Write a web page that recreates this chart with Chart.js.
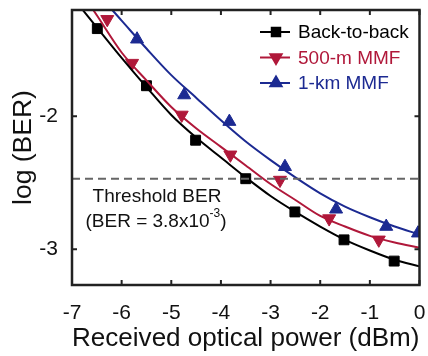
<!DOCTYPE html>
<html>
<head>
<meta charset="utf-8">
<script src="https://cdn.jsdelivr.net/npm/chart.js@4/dist/chart.umd.min.js"></script>
<style>
  html, body { margin: 0; padding: 0; background: #fff; }
  #wrap { width: 428px; height: 356px; }
</style>
</head>
<body>
<div id="wrap"><canvas id="c" width="428" height="356"></canvas></div>
<script>
// --- Data ---
const xTicks = [-7, -6, -5, -4, -3, -2, -1, 0];
const yTicks = [-3, -2];
const thresholdY = -2.47;

// fitted curves
const fitX = [-7, -6.5, -6, -5.5, -5, -4.5, -4, -3.5, -3, -2.5, -2, -1.5, -1, -0.5, 0];
const b2bFit = [-1.10, -1.33, -1.56, -1.78, -1.99, -2.16, -2.31, -2.46, -2.60, -2.72, -2.83, -2.93, -3.01, -3.08, -3.13];
const mmf500Fit = [-0.96, -1.24, -1.52, -1.73, -1.93, -2.09, -2.23, -2.37, -2.51, -2.63, -2.75, -2.83, -2.90, -2.95, -2.99];
const mmf1kFit = [-0.87, -1.07, -1.28, -1.49, -1.69, -1.86, -2.03, -2.19, -2.33, -2.46, -2.58, -2.68, -2.76, -2.83, -2.89];

// measured points
const b2bX = [-6.49, -5.50, -4.51, -3.50, -2.51, -1.52, -0.51];
const b2bY = [-1.34, -1.77, -2.18, -2.47, -2.72, -2.93, -3.09];
const mmf500X = [-6.29, -5.79, -4.79, -3.81, -2.81, -1.82, -0.82];
const mmf500Y = [-1.27, -1.60, -1.99, -2.29, -2.48, -2.77, -2.93];
const mmf1kX = [-5.69, -4.74, -3.83, -2.71, -1.68, -0.67, -0.03];
const mmf1kY = [-1.42, -1.84, -2.04, -2.38, -2.70, -2.83, -2.88];

const series = [
  { name: 'Back-to-back', color: '#000000', style: 'rect', rot: 0, r: 7, fit: b2bFit, px: b2bX, py: b2bY },
  { name: '500-m MMF', color: '#b0183a', style: 'triangle', rot: 180, r: 7.5, fit: mmf500Fit, px: mmf500X, py: mmf500Y },
  { name: '1-km MMF', color: '#1c2a92', style: 'triangle', rot: 0, r: 7.5, fit: mmf1kFit, px: mmf1kX, py: mmf1kY }
];

const FONT = '"Liberation Sans", Arial, Helvetica, sans-serif';
const pts = (xs, ys) => xs.map((x, i) => ({ x: x, y: ys[i] }));

const datasets = [];
datasets.push({
  label: 'threshold',
  data: [{ x: -7, y: thresholdY }, { x: 0, y: thresholdY }],
  showLine: true, borderColor: '#666', borderWidth: 2, borderDash: [8, 5],
  pointRadius: 0
});
series.forEach(s => {
  datasets.push({
    label: s.name + ' fit',
    data: pts(fitX, s.fit),
    showLine: true, borderColor: s.color, borderWidth: 2,
    cubicInterpolationMode: 'monotone', pointRadius: 0
  });
});
series.forEach(s => {
  datasets.push({
    label: s.name,
    data: pts(s.px, s.py),
    showLine: false,
    pointStyle: s.style, pointRotation: s.rot, pointRadius: s.r,
    backgroundColor: s.color, borderColor: s.color, borderWidth: 1
  });
});

// --- frame, inward ticks, legend, threshold text ---
const decor = {
  id: 'decor',
  afterDraw(chart) {
    const ctx = chart.ctx, a = chart.chartArea;
    const xs = chart.scales.x, ys = chart.scales.y;
    ctx.save();
    ctx.strokeStyle = '#222';
    ctx.lineWidth = 2.5;
    ctx.strokeRect(a.left, a.top, a.right - a.left, a.bottom - a.top);
    ctx.lineWidth = 2;
    xTicks.forEach(v => {
      const p = xs.getPixelForValue(v);
      ctx.beginPath();
      ctx.moveTo(p, a.bottom); ctx.lineTo(p, a.bottom - 5);
      ctx.moveTo(p, a.top); ctx.lineTo(p, a.top + 5);
      ctx.stroke();
    });
    yTicks.forEach(v => {
      const p = ys.getPixelForValue(v);
      ctx.beginPath();
      ctx.moveTo(a.left, p); ctx.lineTo(a.left + 5, p);
      ctx.moveTo(a.right, p); ctx.lineTo(a.right - 5, p);
      ctx.stroke();
    });

    // legend
    ctx.font = '19px ' + FONT;
    ctx.textBaseline = 'middle';
    ctx.textAlign = 'left';
    series.forEach((s, i) => {
      const y = 32 + i * 25.5;
      ctx.strokeStyle = s.color;
      ctx.fillStyle = s.color;
      ctx.lineWidth = 2;
      ctx.beginPath(); ctx.moveTo(260, y); ctx.lineTo(290, y); ctx.stroke();
      Chart.helpers.drawPoint(ctx, { pointStyle: s.style, rotation: s.rot, radius: s.r - 1, borderWidth: 1 }, 276, y);
      ctx.fill();
      ctx.fillText(s.name, 298, y + 1);
    });

    // threshold note
    ctx.fillStyle = '#111';
    ctx.textAlign = 'center';
    ctx.fillText('Threshold BER', 157, 197);
    const t1 = '(BER = 3.8x10', sup = '-3', t2 = ')';
    ctx.font = '19px ' + FONT;
    const w1 = ctx.measureText(t1).width, w2 = ctx.measureText(t2).width;
    ctx.font = '12px ' + FONT;
    const ws = ctx.measureText(sup).width;
    let x0 = 156 - (w1 + ws + w2) / 2;
    ctx.textAlign = 'left';
    ctx.font = '19px ' + FONT;
    ctx.fillText(t1, x0, 222);
    ctx.font = '12px ' + FONT;
    ctx.fillText(sup, x0 + w1, 214);
    ctx.font = '19px ' + FONT;
    ctx.fillText(t2, x0 + w1 + ws, 222);
    ctx.restore();
  }
};

new Chart(document.getElementById('c'), {
  type: 'scatter',
  data: { datasets: datasets },
  options: {
    responsive: false,
    animation: false,
    layout: { padding: { top: 10, right: 5, left: 0, bottom: 0 } },
    plugins: { legend: { display: false }, tooltip: { enabled: false } },
    scales: {
      x: {
        type: 'linear', min: -7, max: 0,
        afterBuildTicks: sc => { sc.ticks = xTicks.map(v => ({ value: v })); },
        afterFit: sc => { sc.height = 71; sc.paddingLeft = 0; sc.paddingRight = 0; },
        grid: { display: false },
        border: { display: false },
        ticks: { color: '#111', padding: 8, font: { family: FONT, size: 21 }, maxRotation: 0 },
        title: { display: true, text: 'Received optical power (dBm)', color: '#111',
                 font: { family: FONT, size: 26.5 }, padding: { top: 0, bottom: 1 } }
      },
      y: {
        type: 'linear', min: -3.27, max: -1.2,
        afterBuildTicks: sc => { sc.ticks = yTicks.map(v => ({ value: v })); },
        afterFit: sc => { sc.width = 72; sc.paddingTop = 0; sc.paddingBottom = 0; },
        grid: { display: false },
        border: { display: false },
        ticks: { color: '#111', padding: 6, font: { family: FONT, size: 21 } },
        title: { display: true, text: 'log (BER)', color: '#111',
                 font: { family: FONT, size: 26.5 }, padding: { top: 8, bottom: 0 } }
      }
    }
  },
  plugins: [decor]
});
</script>
</body>
</html>
